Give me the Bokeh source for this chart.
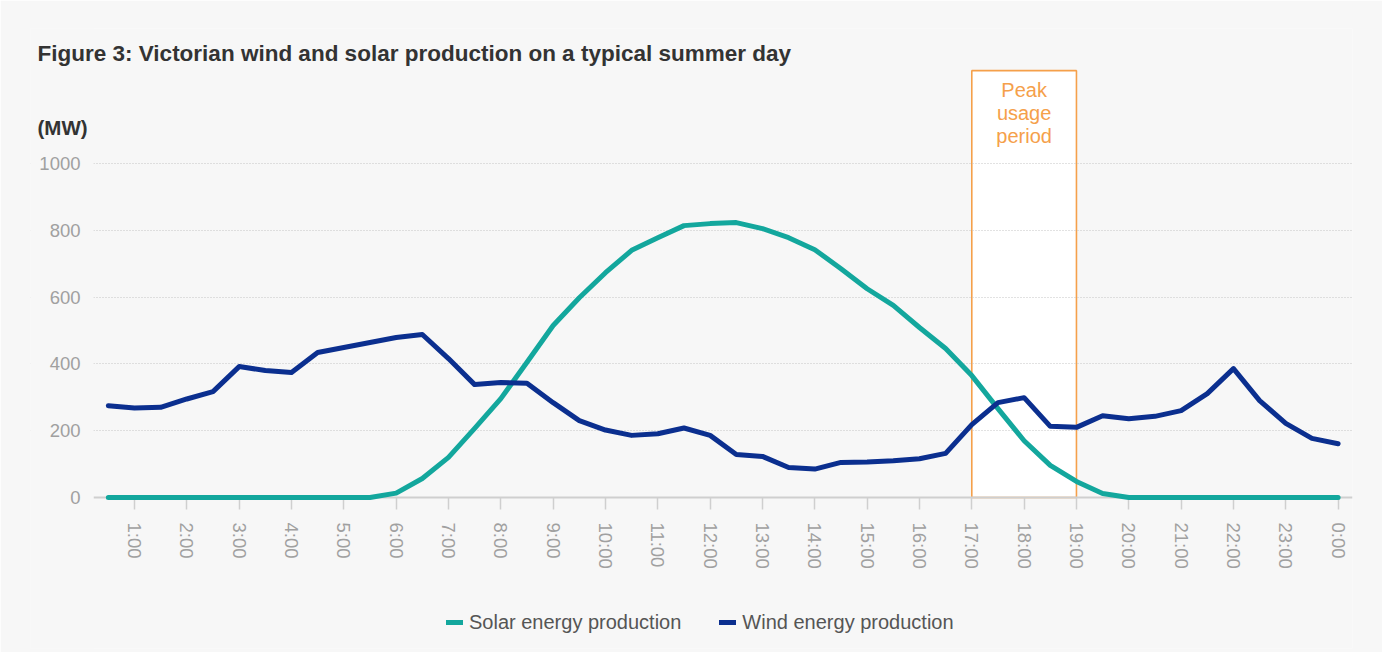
from bokeh.plotting import figure
from bokeh.models import (FixedTicker, Range1d, BoxAnnotation, Label, Legend, LegendItem)
from bokeh.embed import file_html
from bokeh.resources import INLINE

# ---- data ----
half_hours = ["0:30", "1:00", "1:30", "2:00", "2:30", "3:00", "3:30", "4:00", "4:30", "5:00",
              "5:30", "6:00", "6:30", "7:00", "7:30", "8:00", "8:30", "9:00", "9:30", "10:00",
              "10:30", "11:00", "11:30", "12:00", "12:30", "13:00", "13:30", "14:00", "14:30", "15:00",
              "15:30", "16:00", "16:30", "17:00", "17:30", "18:00", "18:30", "19:00", "19:30", "20:00",
              "20:30", "21:00", "21:30", "22:00", "22:30", "23:00", "23:30", "0:00"]
solar_mw = [0, 0, 0, 0, 0, 0, 0, 0, 0, 0,
            0, 13, 57, 120, 207, 296, 405, 515, 598, 673,
            740, 778, 814, 820, 823, 805, 778, 742, 685, 625,
            575, 509, 446, 365, 266, 170, 96, 48, 12, 0,
            0, 0, 0, 0, 0, 0, 0, 0]
wind_mw = [275, 268, 270, 295, 317, 392, 380, 374, 434, 449,
           464, 479, 488, 416, 338, 344, 342, 284, 230, 202,
           186, 191, 208, 186, 129, 123, 90, 85, 105, 106,
           110, 116, 132, 218, 284, 299, 213, 210, 245, 236,
           243, 260, 311, 386, 290, 222, 177, 161]
hour_ticks = list(range(1, 25))
hour_labels = ["1:00", "2:00", "3:00", "4:00", "5:00", "6:00", "7:00", "8:00", "9:00", "10:00",
               "11:00", "12:00", "13:00", "14:00", "15:00", "16:00", "17:00", "18:00", "19:00", "20:00",
               "21:00", "22:00", "23:00", "0:00"]
y_ticks = [0, 200, 400, 600, 800, 1000]
peak_start, peak_end = 17, 19

x_hours = [0.5 * (i + 1) for i in range(len(half_hours))]

BG = "#f7f7f7"
SOLAR = "#13a79d"
WIND = "#0b2f8f"
ORANGE = "#f5a04a"
GREY = "#a0a0a0"
FONT = "Liberation Sans"

X0, X1 = -0.9874, 24.275      # visible hour range
AXIS_X = 0.2165               # where the value axis sits
Y0, Y1 = -452.1, 1404.2

p = figure(width=1382, height=652, output_backend="svg", toolbar_location=None,
           x_range=Range1d(X0, X1), y_range=Range1d(Y0, Y1),
           min_border_left=30, min_border_right=30, min_border_top=28, min_border_bottom=4,
           background_fill_color=BG, border_fill_color=BG, outline_line_color=None)

# peak usage box (below grid)
p.add_layout(BoxAnnotation(left=peak_start, right=peak_end, bottom=0, top=1278,
                           fill_color="white", fill_alpha=1.0,
                           line_color=ORANGE, line_alpha=1.0, line_width=1.6,
                           level="image"))

# grid
p.xgrid.grid_line_color = None
p.ygrid.grid_line_color = "#c4c4c4"
p.ygrid.grid_line_dash = "1 2"
p.ygrid.grid_line_width = 1
p.ygrid.ticker = FixedTicker(ticks=y_ticks[1:])

# mask the gridlines left of the value axis
p.add_layout(BoxAnnotation(left=X0 - 1, right=AXIS_X, fill_color=BG, fill_alpha=1.0,
                           line_color=None, level="underlay"))

# value axis
p.yaxis.fixed_location = AXIS_X
p.yaxis.ticker = FixedTicker(ticks=y_ticks)
p.yaxis.axis_line_color = None
p.yaxis.major_tick_line_color = None
p.yaxis.minor_tick_line_color = None
p.yaxis.major_tick_out = 0
p.yaxis.major_tick_in = 0
p.yaxis.major_label_standoff = 13
p.yaxis.major_label_text_font = FONT
p.yaxis.major_label_text_font_size = "18.5px"
p.yaxis.major_label_text_color = GREY

# time axis at zero
p.xaxis.fixed_location = 0
p.xaxis.bounds = (AXIS_X, X1)
p.xaxis.level = "underlay"
p.xaxis.ticker = FixedTicker(ticks=hour_ticks)
p.xaxis.major_label_overrides = {t: l for t, l in zip(hour_ticks, hour_labels)}
p.xaxis.major_label_orientation = "vertical"
p.xaxis.axis_line_color = "#cfcfcf"
p.xaxis.axis_line_width = 2
p.xaxis.major_tick_line_color = "#cfcfcf"
p.xaxis.major_tick_line_width = 1.5
p.xaxis.major_tick_out = 12
p.xaxis.major_tick_in = 0
p.xaxis.minor_tick_line_color = None
p.xaxis.major_label_standoff = 13
p.xaxis.major_label_text_font = FONT
p.xaxis.major_label_text_font_size = "18.5px"
p.xaxis.major_label_text_color = GREY

# lines
r_solar = p.line(x_hours, solar_mw, line_color=SOLAR, line_width=5, line_cap="round", line_join="round")
r_wind = p.line(x_hours, wind_mw, line_color=WIND, line_width=5, line_cap="round", line_join="round")

# texts
p.add_layout(Label(x=-0.8536, y=1329, text="Figure 3: Victorian wind and solar production on a typical summer day",
                   text_font=FONT, text_font_style="bold", text_font_size="22.5px",
                   text_color="#333333", text_baseline="alphabetic"))
p.add_layout(Label(x=-0.8536, y=1108, text="(MW)",
                   text_font=FONT, text_font_style="bold", text_font_size="20.5px",
                   text_color="#333333", text_baseline="alphabetic"))
for txt, yy in zip(["Peak", "usage", "period"], [1220, 1150, 1081]):
    p.add_layout(Label(x=(peak_start + peak_end) / 2, y=yy, text=txt, text_align="center",
                       text_font=FONT, text_font_size="20px", text_color=ORANGE,
                       text_baseline="alphabetic"))

legend = Legend(items=[LegendItem(label="Solar energy production", renderers=[r_solar]),
                       LegendItem(label="Wind energy production", renderers=[r_wind])],
                orientation="horizontal", location=(416, 14),
                background_fill_alpha=0, border_line_color=None,
                label_text_font=FONT, label_text_font_size="20px", label_text_color="#555555",
                glyph_width=17, glyph_height=24, label_standoff=6, spacing=38, padding=0, margin=0)
p.add_layout(legend)

open("out.html", "w").write(file_html(p, INLINE))
